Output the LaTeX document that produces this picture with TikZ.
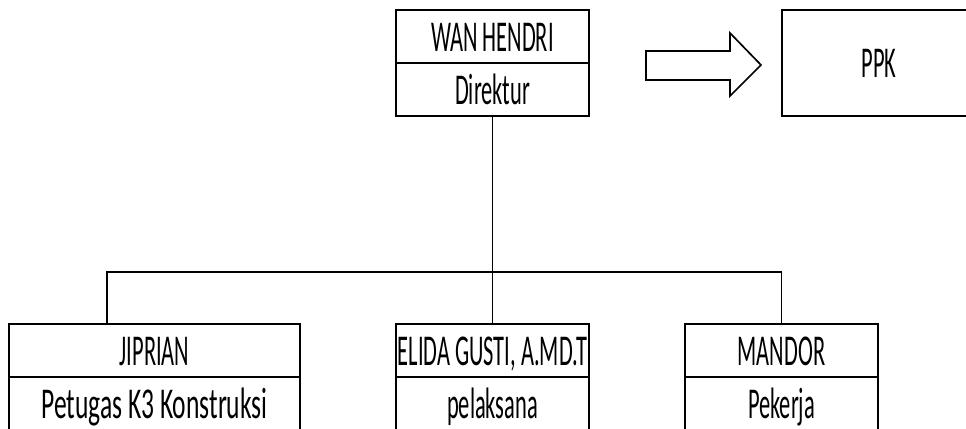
\documentclass[tikz,border=0pt]{standalone}
\usepackage{fontspec}
\setmainfont{Carlito}[FakeStretch=0.51]
\newfontfamily\widerfont{Carlito}[FakeStretch=0.58]
\usetikzlibrary{positioning}

\begin{document}
\begin{tikzpicture}[x=0.75pt,y=-0.75pt,
	cell/.style={draw,line width=1.5pt,inner sep=0pt,outer sep=0pt,
		minimum height=39.75pt,text height=22pt,text depth=0pt,
		font=\fontsize{33}{38}\selectfont},
	wide/.style={cell,minimum width=218.25pt,text height=23pt},
	narrow/.style={cell,minimum width=144.75pt},
	conn/.style={line width=1.4pt}]
	\useasboundingbox (0,0) rectangle (966,428);
	% direktur
	\node[narrow] (dirname) at (492.5,36.5) {WAN HENDRI};
	\node[narrow,below=0pt of dirname] (dirrole) {Direktur};
	% ppk
	\node[cell,minimum width=145.5pt,minimum height=79.5pt] (ppk) at (879,63) {PPK};
	\draw[line width=1.25pt] (646,51) -- (730,51) -- (730,33) -- (761,65)
		-- (730,96) -- (730,80) -- (646,80) -- cycle;
	% staf
	\node[wide] (jipname) at (154.5,350.5) {JIPRIAN};
	\node[wide,below=0pt of jipname] (jiprole) {\widerfont Petugas K3 Konstruksi};
	\node[narrow] (elidaname) at (492.5,350.5) {ELIDA GUSTI, A.MD.T};
	\node[narrow,below=0pt of elidaname] (elidarole) {pelaksana};
	\node[narrow] (mandorname) at (781.5,350.5) {MANDOR};
	\node[narrow,below=0pt of mandorname] (mandorrole) {Pekerja};
	% garis
	\coordinate (bus) at (107,272);
	\draw[line width=0.8pt] (dirrole) -- (elidaname);
	\draw[conn] (bus |- jipname.north) -- (bus) -| (mandorname.north);
\end{tikzpicture}
\end{document}
